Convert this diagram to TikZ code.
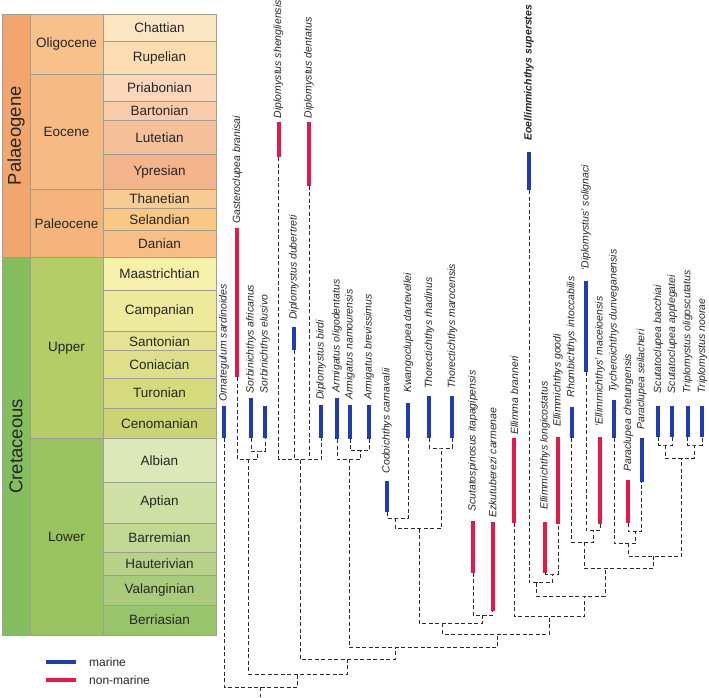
\documentclass[tikz,border=0pt]{standalone}
\usepackage{fontspec}
\setmainfont{Liberation Sans}
\definecolor{cPal}{HTML}{F2A66E}
\definecolor{cOli}{HTML}{F8C08A}
\definecolor{cEoc}{HTML}{F6BA84}
\definecolor{cPaleo}{HTML}{F5B47C}
\definecolor{cChat}{HTML}{FCE5C2}
\definecolor{cRup}{HTML}{FADDB0}
\definecolor{cPri}{HTML}{FAD7BA}
\definecolor{cBar}{HTML}{F8CBAA}
\definecolor{cLut}{HTML}{F5C09A}
\definecolor{cYpr}{HTML}{F3B48C}
\definecolor{cTha}{HTML}{F9CC94}
\definecolor{cSel}{HTML}{F9C884}
\definecolor{cDan}{HTML}{F7BF86}
\definecolor{cCre}{HTML}{85BE5E}
\definecolor{cUpp}{HTML}{B4CD66}
\definecolor{cLow}{HTML}{98C460}
\definecolor{cMaa}{HTML}{F5F0AA}
\definecolor{cCam}{HTML}{EDEA9C}
\definecolor{cSan}{HTML}{E4E492}
\definecolor{cCon}{HTML}{DEDF88}
\definecolor{cTur}{HTML}{D5DA7C}
\definecolor{cCen}{HTML}{CAD472}
\definecolor{cAlb}{HTML}{DCE8B8}
\definecolor{cApt}{HTML}{CFE0A4}
\definecolor{cBrm}{HTML}{C1D994}
\definecolor{cHau}{HTML}{B5D288}
\definecolor{cVal}{HTML}{A8CC7C}
\definecolor{cBer}{HTML}{98C46C}
\definecolor{mar}{HTML}{1E3CB4}
\definecolor{non}{HTML}{E8174B}
\definecolor{txt}{HTML}{262626}
\definecolor{grid}{HTML}{A39C92}
\definecolor{dashc}{HTML}{2A2A2A}
\begin{document}
\begin{tikzpicture}[x=1pt,y=-1pt,
  cellline/.style={draw=grid,line width=0.7pt},
  stagetxt/.style={text=txt,inner sep=0pt,font=\fontsize{13.5}{15}\selectfont},
  eratxt/.style={text=txt,inner sep=0pt,rotate=90,font=\fontsize{18.5}{20}\selectfont},
  taxlabel/.style={text=txt,inner sep=0pt,rotate=90,anchor=west,font=\fontsize{10.5}{12}\selectfont\itshape},
  bar/.style={line width=4pt},
  treeline/.style={draw=dashc,line width=0.95pt,dash pattern=on 4pt off 2.5pt},
  legtxt/.style={text=txt,inner sep=0pt,anchor=west,font=\fontsize{12}{14}\selectfont}]
\useasboundingbox (0,0) rectangle (709,698);
% ---------- era column ----------
\draw[cellline,fill=cPal] (2,14) rectangle (30,257.5);
\draw[cellline,fill=cCre] (2,257.5) rectangle (30,635);
\node[eratxt] (eraP) at (16,135.75) {Palaeogene};
\node[eratxt] (eraC) at (16,446.25) {Cretaceous};
% ---------- epoch column ----------
\foreach \nm/\ya/\yb/\col in {Oligocene/14/74.3/cOli,Eocene/74.3/189.3/cEoc,Paleocene/189.3/257.5/cPaleo,Upper/257.5/438.5/cUpp,Lower/438.5/635/cLow}{
  \draw[cellline,fill=\col] (30,\ya) rectangle (103,\yb);
  \node[stagetxt] (ep\nm) at (66.5,{(\ya+\yb)/2}) {\nm};
}
% ---------- stage column ----------
\foreach \nm/\ya/\yb/\col in {Chattian/14/41.3/cChat,Rupelian/41.3/74.3/cRup,Priabonian/74.3/101.3/cPri,Bartonian/101.3/120.7/cBar,Lutetian/120.7/154/cLut,Ypresian/154/189.3/cYpr,Thanetian/189.3/208.7/cTha,Selandian/208.7/230/cSel,Danian/230/257.5/cDan,Maastrichtian/257.5/290.7/cMaa,Campanian/290.7/331.7/cCam,Santonian/331.7/350.7/cSan,Coniacian/350.7/378.3/cCon,Turonian/378.3/408/cTur,Cenomanian/408/438.5/cCen,Albian/438.5/482/cAlb,Aptian/482/523/cApt,Barremian/523/552.5/cBrm,Hauterivian/552.5/575/cHau,Valanginian/575/605/cVal,Berriasian/605/635/cBer}{
  \draw[cellline,fill=\col] (103,\ya) rectangle (216,\yb);
  \node[stagetxt] (st\nm) at (159.5,{(\ya+\yb)/2}) {\nm};
}
% ---------- legend ----------
\coordinate (lm1) at (46,662); \coordinate (lm2) at (76,662);
\coordinate (ln1) at (46,680); \coordinate (ln2) at (76,680);
\draw[bar,mar] (lm1) -- (lm2);
\draw[bar,non] (ln1) -- (ln2);
\node[legtxt] (legM) at (89,662) {marine};
\node[legtxt] (legN) at (89,680) {non-marine};
% ---------- taxa ----------
\foreach \i/\x/\yt/\yb/\col/\ly/\txt in {
 1/224/406/437.5/mar/402/Ornategulum sardinoides,
 2/237.3/228/377/non/224/Gasteroclupea branisai,
 3/251/397.5/438/mar/393.5/Sorbinichthys africanus,
 4/265/406/438/mar/393.5/Sorbinichthys elusivo,
 5/278.5/121.7/157/non/118.3/Diplomystus shengliensis,
 6/294/327.3/350/mar/320/Diplomystus dubertreti,
 7/309/122.3/185.5/non/118.3/Diplomystus dentatus,
 8/321/405/438/mar/400/Diplomystus birdi,
 9/337/398/439/mar/392.5/Armigatus oligodentatus,
 10/350/405/438.5/mar/400/Armigatus namourensis,
 11/369/405/438.5/mar/400/Armigatus brevissimus,
 12/387/480.5/512/mar/473.5/Codoichthys carnavalii,
 13/408.3/403/438/mar/393/Kwangoclupea dartevellei,
 14/429.3/395.7/438.3/mar/389/Thorectichthys rhadinus,
 15/452.3/395.7/438.3/mar/389/Thorectichthys marocensis,
 16/473/521/572.7/non/512/Scutatospinosus itapagipensis,
 17/492.7/521.7/611/non/518/Ezkutuberezi carmenae,
 18/514.3/438/522.7/non/435/Ellimma branneri,
 19/529/151.7/190/mar/141/\textbf{Eoellimmichthys superstes},
 20/545/521.7/572.7/non/510/Ellimmichthys longicostatus,
 21/558/436.7/524/non/427/Ellimmichthys goodi,
 22/571.7/407.3/437.7/mar/397.5/Rhombichthys intoccabilis,
 23/586/280.7/371.7/mar/271/‘Diplomystus’ solignaci,
 24/600/436.7/524.3/non/427/‘Ellimmichthys’ maceioensis,
 25/614/400/437.7/mar/393/Tycheroichthys dunveganensis,
 26/628.3/479.5/523.3/non/472/Paraclupea chetungensis,
 27/641.7/438.3/481.7/mar/430/Paraclupea seilacheri,
 28/658.3/405.7/436.7/mar/393.3/Scutatoclupea bacchiai,
 29/672.3/405.7/436.7/mar/393.3/Scutatoclupea applegatei,
 30/687.7/405.7/436.7/mar/393.3/Triplomystus oligoscutatus,
 31/702.3/405.7/436.7/mar/393.3/Triplomystus noorae}{
  \coordinate (tt\i) at (\x,\yt);
  \coordinate (t\i) at (\x,\yb);
  \draw[bar,\col] (tt\i) -- (t\i);
  \node[taxlabel] (lab\i) at (\x,\ly) {\txt};
}
% ---------- internal nodes ----------
\coordinate (nSorb) at (257.7,451);
\coordinate (nGS) at (248.3,459.3);
\coordinate (nDip) at (300,459.5);
\coordinate (nArm2) at (360.7,450.7);
\coordinate (nArm) at (349.3,459.3);
\coordinate (nCK) at (395,518);
\coordinate (nTh) at (441,448);
\coordinate (nCKT) at (419.3,528.5);
\coordinate (nSE) at (482.3,615);
\coordinate (nG1) at (442.7,623.3);
\coordinate (nEll) at (552.3,574);
\coordinate (nEoE) at (536.7,582.7);
\coordinate (nSM) at (593.3,530.7);
\coordinate (nRSM) at (584,542.3);
\coordinate (nPar) at (635.7,531.7);
\coordinate (nTP) at (628.3,543.3);
\coordinate (nSc) at (665.7,445);
\coordinate (nTr) at (694.3,445);
\coordinate (nScTr) at (681.7,458.3);
\coordinate (nTPS) at (653.3,556);
\coordinate (nR) at (605,568.3);
\coordinate (nE2) at (584,596);
\coordinate (nE3) at (549.3,616.5);
\coordinate (nG2) at (497.3,634.3);
\coordinate (nC) at (395,647.7);
\coordinate (nB) at (347.3,659.3);
\coordinate (nA) at (297.7,674);
\coordinate (nRoot) at (260,687);
\coordinate (rootEnd) at (260,697);
% ---------- brackets ----------
\foreach \p/\a/\b in {nSorb/t3/t4, nGS/t2/nSorb, nArm2/t10/t11, nArm/t9/nArm2,
  nCK/t12/t13, nTh/t14/t15, nCKT/nCK/nTh, nSE/t16/t17, nG1/nCKT/nSE,
  nEll/t20/t21, nEoE/t19/nEll, nSM/t23/t24, nRSM/t22/nSM, nPar/t26/t27,
  nTP/t25/nPar, nSc/t28/t29, nTr/t30/t31, nScTr/nSc/nTr, nTPS/nTP/nScTr,
  nR/nRSM/nTPS, nE2/nEoE/nR, nE3/t18/nE2, nG2/nG1/nE3, nC/nArm/nG2,
  nB/nDip/nC, nA/nGS/nB, nRoot/t1/nA}{
  \draw[treeline] (\a) |- (\p) -| (\b);
}
\draw[treeline] (t5) |- (nDip) -| (t8);
\draw[treeline] (t6) -- (t6 |- nDip);
\draw[treeline] (t7) -- (t7 |- nDip);
\draw[treeline] (nRoot) -- (rootEnd);
\end{tikzpicture}
\end{document}
